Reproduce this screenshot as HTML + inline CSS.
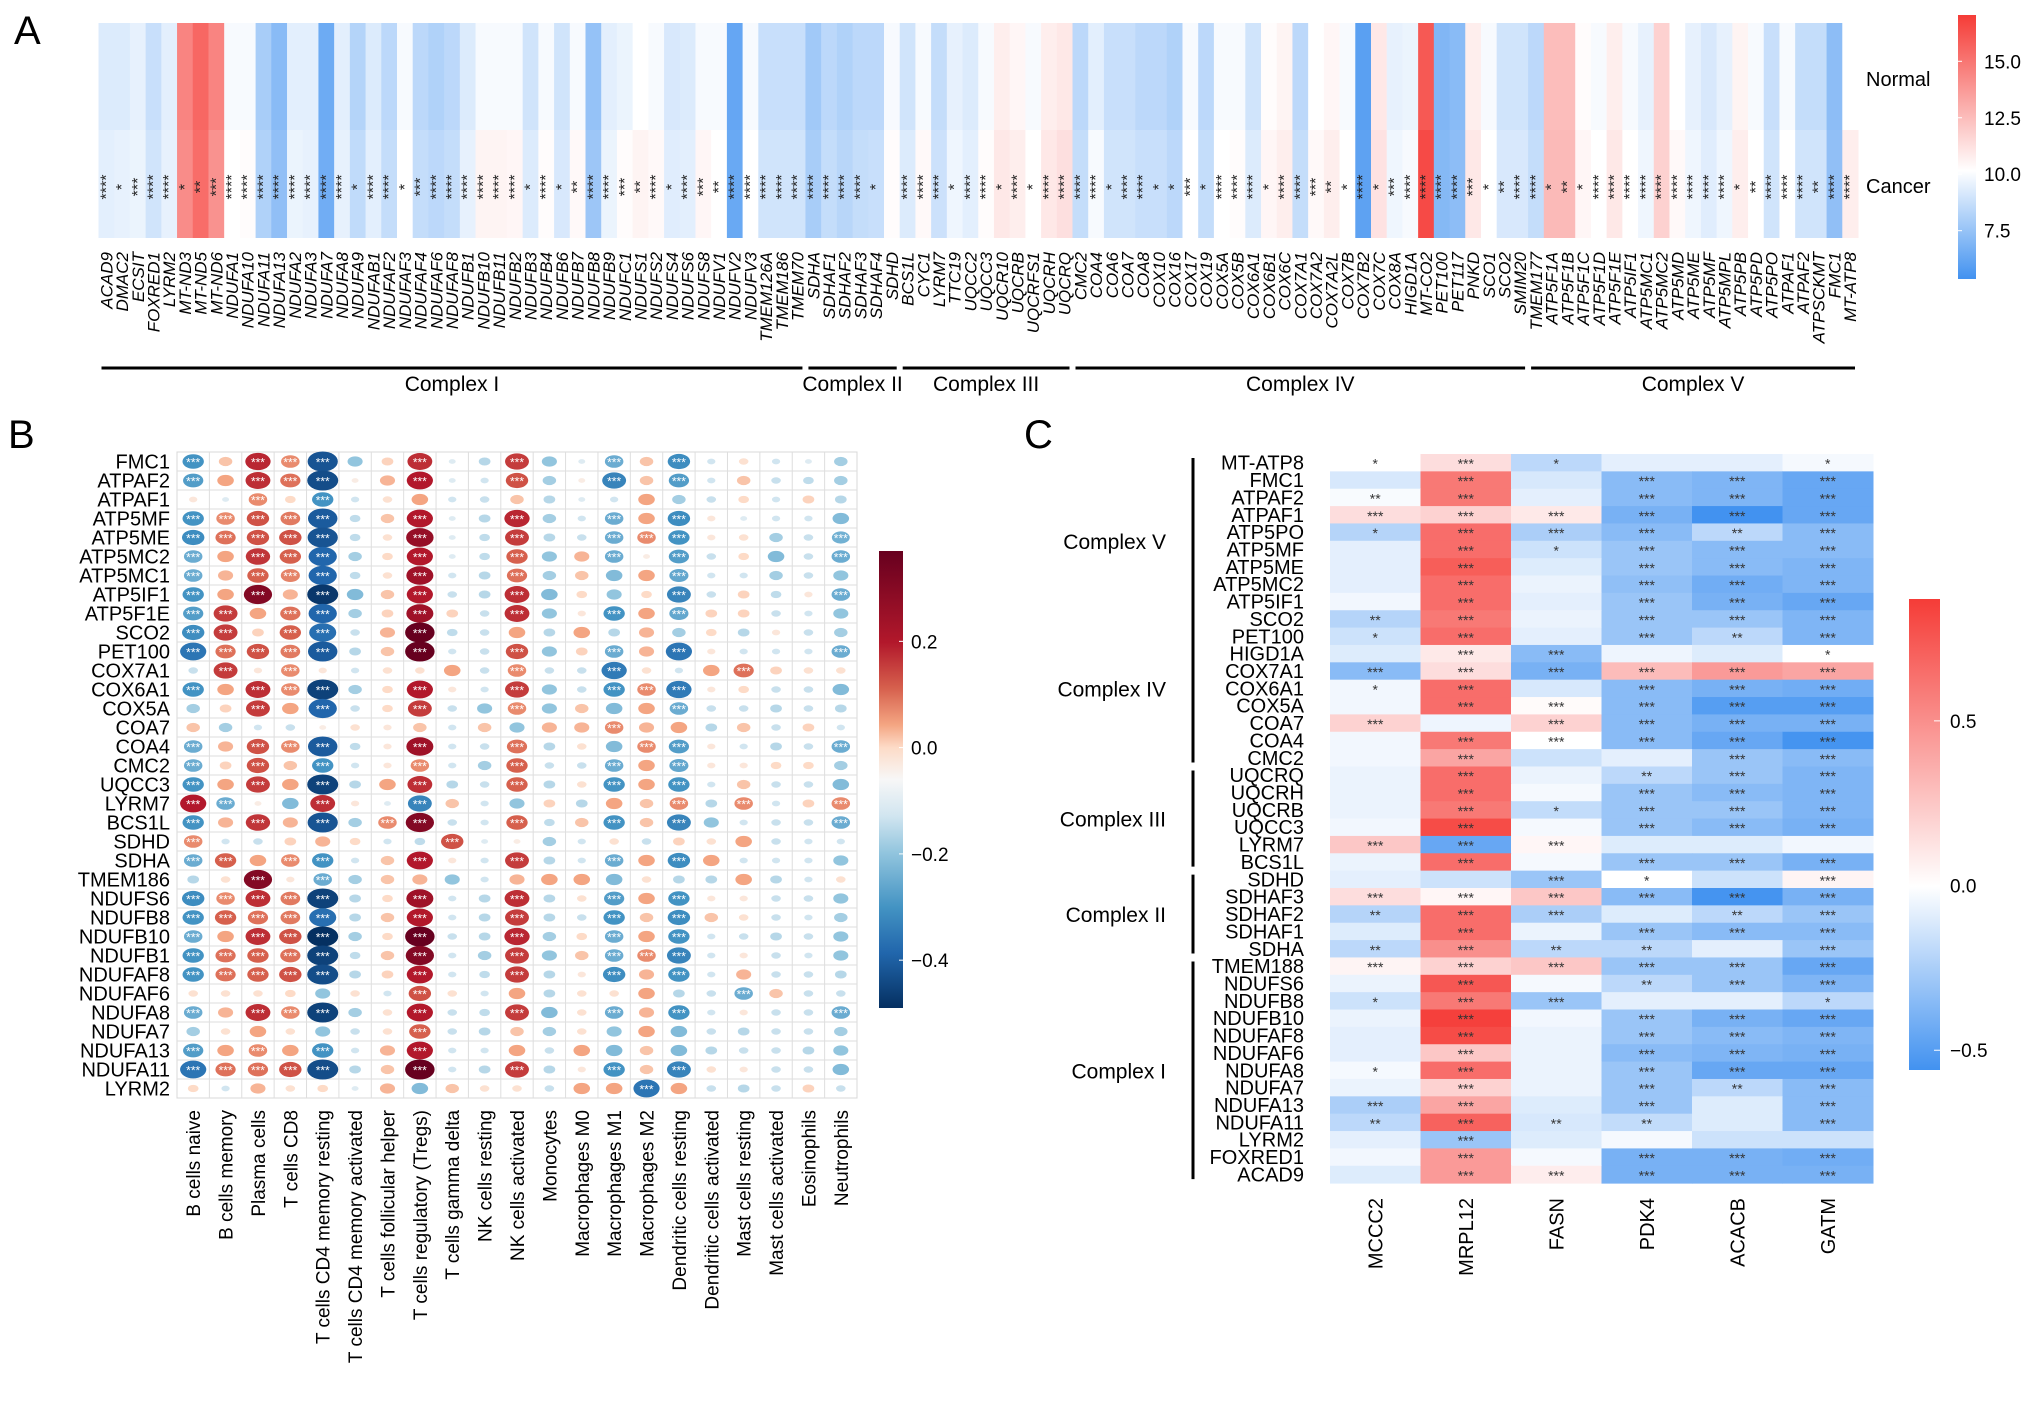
<!DOCTYPE html>
<html><head><meta charset="utf-8"><style>
html,body{margin:0;padding:0;background:#fff;}
svg{display:block;font-family:"Liberation Sans",sans-serif;}
</style></head><body>
<svg id="fig" width="2032" height="1404" viewBox="0 0 2032 1404" xmlns="http://www.w3.org/2000/svg">
<defs>
<linearGradient id="gradA" x1="0" y1="0" x2="0" y2="1">
<stop offset="0" stop-color="rgb(245,60,55)"/><stop offset="0.59" stop-color="#ffffff"/><stop offset="1" stop-color="rgb(66,146,240)"/></linearGradient>
<linearGradient id="gradB" x1="0" y1="0" x2="0" y2="1">
<stop offset="0" stop-color="#67001F"/><stop offset="0.2" stop-color="#B2182B"/><stop offset="0.3" stop-color="#D6604D"/><stop offset="0.38" stop-color="#F4A582"/><stop offset="0.43" stop-color="#FDDBC7"/><stop offset="0.5" stop-color="#F7F7F7"/><stop offset="0.58" stop-color="#D1E5F0"/><stop offset="0.66" stop-color="#92C5DE"/><stop offset="0.78" stop-color="#4393C3"/><stop offset="0.88" stop-color="#2166AC"/><stop offset="1" stop-color="#053061"/></linearGradient>
<linearGradient id="gradC" x1="0" y1="0" x2="0" y2="1">
<stop offset="0" stop-color="rgb(245,60,55)"/><stop offset="0.61" stop-color="#ffffff"/><stop offset="1" stop-color="rgb(66,146,240)"/></linearGradient>
</defs>
<text x="14" y="44" font-size="40">A</text>
<text x="8" y="448" font-size="40">B</text>
<text x="1024" y="448" font-size="40">C</text>
<g id="pa"></g>
<g id="pb"></g>
<g id="pc"></g>
</svg>
<script>
// ---------- Panel A data ----------
const genesA = ["ACAD9","DMAC2","ECSIT","FOXRED1","LYRM2","MT-ND3","MT-ND5","MT-ND6","NDUFA1","NDUFA10","NDUFA11","NDUFA13","NDUFA2","NDUFA3","NDUFA7","NDUFA8","NDUFA9","NDUFAB1","NDUFAF2","NDUFAF3","NDUFAF4","NDUFAF6","NDUFAF8","NDUFB1","NDUFB10","NDUFB11","NDUFB2","NDUFB3","NDUFB4","NDUFB6","NDUFB7","NDUFB8","NDUFB9","NDUFC1","NDUFS1","NDUFS2","NDUFS4","NDUFS6","NDUFS8","NDUFV1","NDUFV2","NDUFV3","TMEM126A","TMEM186","TMEM70","SDHA","SDHAF1","SDHAF2","SDHAF3","SDHAF4","SDHD","BCS1L","CYC1","LYRM7","TTC19","UQCC2","UQCC3","UQCR10","UQCRB","UQCRFS1","UQCRH","UQCRQ","CMC2","COA4","COA6","COA7","COA8","COX10","COX16","COX17","COX19","COX5A","COX5B","COX6A1","COX6B1","COX6C","COX7A1","COX7A2","COX7A2L","COX7B","COX7B2","COX7C","COX8A","HIGD1A","MT-CO2","PET100","PET117","PNKD","SCO1","SCO2","SMIM20","TMEM177","ATP5F1A","ATP5F1B","ATP5F1C","ATP5F1D","ATP5F1E","ATP5IF1","ATP5MC1","ATP5MC2","ATP5MD","ATP5ME","ATP5MF","ATP5MPL","ATP5PB","ATP5PD","ATP5PO","ATPAF1","ATPAF2","ATPSCKMT","FMC1","MT-ATP8"];
const normalA = [9.3,9.3,9.6,8.8,9.5,14.5,15.5,14.5,10,10,8,7.2,9.5,9.5,6.5,9.5,8.3,9.3,8.5,10,8.5,8.2,8.5,9.3,10,10,10,9,10,9,10,7.5,9.5,9.7,10.2,10,9.2,9.3,10,10,6.3,10,8.8,8.8,8.8,7.8,8.5,8.2,8.5,8.5,10,9,10,8.7,9.6,9.3,10,10.8,10.5,10,10.8,11,8.5,9.5,8.8,8.8,8.5,8.5,8.2,10,8.5,10,10,9,10.3,10.6,8.5,10.2,10.5,10,6,11,9.6,9.7,16,7,7.2,10.8,10,9,9,8.5,12.5,12.5,10.3,10,10.8,10,9.6,11.8,10.2,9.6,9.2,9.6,10.6,10,8.8,10,8.7,8.7,7.3,10.2];
const cancerA = [9.5,9.6,9.7,9,9.6,14.2,15.3,14,10.2,10.3,8.2,7.4,9.7,9.6,6.6,9.6,8.6,9.5,8.7,10.2,8.7,8.5,8.7,9.6,10.6,10.6,10.5,9.3,10.3,9.2,10.4,7.7,9.7,10.3,10.6,10.4,9.4,9.5,10.5,10.2,6.4,10.2,9,9,9,8,8.7,8.4,8.7,8.8,10.3,9.3,10.4,8.9,9.8,9.5,10.3,11,10.8,10.2,11,11.3,8.7,10,9,9,8.8,8.8,8.5,10.2,8.7,10.2,10.3,9.3,10.5,10.8,8.7,10.4,10.8,10.2,6.1,11.2,9.8,10,16.5,7.1,7.3,11,10.2,9.2,9.2,8.7,12.6,12.6,10.5,10.2,11,10.2,9.8,11.8,10.4,9.8,9.4,9.8,10.8,10.2,9,10.2,9,9,7.4,10.8];
const starsA = [4,1,3,4,4,1,2,3,4,4,4,4,4,4,4,4,1,4,4,1,3,4,4,4,4,4,4,1,4,1,2,4,4,3,2,4,1,4,3,2,4,4,4,4,4,4,4,4,4,1,0,4,4,4,1,4,4,1,4,1,4,4,4,4,1,4,4,1,1,3,1,4,4,4,1,4,4,3,2,1,4,1,3,4,4,4,4,3,1,2,4,4,1,2,1,4,4,4,4,4,4,4,4,4,1,2,4,4,4,2,4,4];
const groupsA = ["Complex I","Complex II","Complex III","Complex IV","Complex V"];
const groupStartA = [0,45,51,62,91];
const groupEndA = [44,50,61,90,111];
const ticksA = [15.0,12.5,10.0,7.5];

// ---------- Panel B data ----------
const cellsB = ["B cells naive","B cells memory","Plasma cells","T cells CD8","T cells CD4 memory resting","T cells CD4 memory activated","T cells follicular helper","T cells regulatory (Tregs)","T cells gamma delta","NK cells resting","NK cells activated","Monocytes","Macrophages M0","Macrophages M1","Macrophages M2","Dendritic cells resting","Dendritic cells activated","Mast cells resting","Mast cells activated","Eosinophils","Neutrophils"];
const genesB = ["FMC1","ATPAF2","ATPAF1","ATP5MF","ATP5ME","ATP5MC2","ATP5MC1","ATP5IF1","ATP5F1E","SCO2","PET100","COX7A1","COX6A1","COX5A","COA7","COA4","CMC2","UQCC3","LYRM7","BCS1L","SDHD","SDHA","TMEM186","NDUFS6","NDUFB8","NDUFB10","NDUFB1","NDUFAF8","NDUFAF6","NDUFA8","NDUFA7","NDUFA13","NDUFA11","LYRM2"];
const corrB = [
[-0.2,0.08,0.28,0.15,-0.4,-0.1,0.06,0.27,-0.02,-0.06,0.25,-0.1,-0.02,-0.15,0.08,-0.22,-0.03,0.04,-0.03,-0.02,-0.08],
[-0.18,0.12,0.27,0.18,-0.42,0.02,0.1,0.3,-0.02,-0.03,0.22,-0.08,0.02,-0.25,0.08,-0.18,-0.03,0.08,-0.04,-0.05,-0.08],
[0.03,-0.02,0.15,0.05,-0.2,-0.03,0.04,0.12,-0.03,-0.04,0.08,-0.06,-0.02,-0.03,0.12,-0.08,-0.04,0.05,-0.03,0.06,-0.06],
[-0.2,0.15,0.22,0.17,-0.38,-0.05,0.08,0.3,-0.02,-0.06,0.28,-0.08,-0.03,-0.15,0.12,-0.22,0.03,-0.02,-0.03,-0.03,-0.12],
[-0.22,0.18,0.22,0.22,-0.4,-0.05,0.04,0.33,-0.02,-0.05,0.25,-0.06,-0.04,-0.15,0.15,-0.2,0.03,0.04,-0.08,-0.04,-0.14],
[-0.15,0.12,0.26,0.2,-0.35,-0.08,0.05,0.3,-0.02,-0.05,0.2,-0.1,0.1,-0.15,0.02,-0.18,-0.04,0.05,-0.12,-0.04,-0.15],
[-0.15,0.1,0.2,0.16,-0.35,-0.05,0.04,0.32,-0.03,-0.06,0.18,-0.08,0.08,-0.12,0.12,-0.16,-0.03,-0.03,-0.08,-0.04,-0.1],
[-0.2,0.12,0.35,0.1,-0.48,-0.12,0.08,0.3,-0.04,-0.06,0.27,-0.12,0.05,-0.1,0.05,-0.25,-0.04,0.06,-0.05,0.03,-0.15],
[-0.18,0.25,0.12,0.18,-0.35,-0.08,0.06,0.32,0.06,-0.04,0.27,-0.1,0.03,-0.2,0.12,-0.16,0.06,0.06,-0.04,-0.03,-0.1],
[-0.22,0.25,0.06,0.2,-0.32,-0.04,0.1,0.38,-0.05,-0.04,0.12,-0.06,0.12,-0.06,0.1,-0.08,0.05,-0.06,0.03,-0.04,-0.08],
[-0.3,0.18,0.22,0.17,-0.38,-0.06,0.08,0.38,-0.03,-0.04,0.22,-0.1,0.06,-0.15,0.1,-0.3,0.03,-0.03,-0.03,-0.03,-0.15],
[-0.04,0.25,0.03,0.15,0.03,-0.03,0.04,0.04,0.12,-0.04,0.15,-0.04,-0.04,-0.28,0.04,-0.03,0.12,0.18,0.06,0.04,0.04],
[-0.2,0.12,0.27,0.15,-0.45,-0.08,0.05,0.3,0.03,-0.03,0.25,-0.1,-0.04,-0.2,0.15,-0.28,0.03,0.05,-0.04,-0.04,-0.12],
[-0.08,0.06,0.25,0.12,-0.35,-0.04,0.05,0.25,-0.04,-0.1,0.15,-0.1,0.08,-0.12,0.12,-0.15,-0.04,-0.04,-0.06,-0.04,-0.06],
[0.08,-0.08,-0.03,-0.04,0.02,0.04,0.03,0.08,-0.03,0.08,-0.1,0.1,0.1,0.15,0.1,0.12,-0.06,0.08,-0.04,0.06,-0.03],
[-0.15,0.1,0.22,0.15,-0.38,-0.05,0.03,0.32,-0.03,-0.04,0.18,-0.06,0.04,-0.12,0.15,-0.18,0.03,-0.03,-0.06,-0.04,-0.15],
[-0.15,0.06,0.22,0.08,-0.2,-0.03,0.03,0.15,-0.03,-0.08,0.2,-0.04,-0.04,-0.15,0.12,-0.16,0.03,0.03,0.05,0.05,-0.08],
[-0.2,0.12,0.25,0.12,-0.45,-0.06,0.12,0.27,-0.06,-0.04,0.2,-0.06,0.04,-0.2,0.12,-0.2,-0.03,0.08,-0.04,-0.04,-0.12],
[0.3,-0.15,0.02,-0.12,0.27,0.03,-0.02,-0.25,0.08,-0.03,-0.1,0.06,-0.06,0.12,0.08,0.15,-0.06,0.15,-0.03,0.06,0.15],
[-0.2,0.1,0.26,0.1,-0.4,-0.08,0.15,0.35,-0.04,-0.03,0.2,-0.05,0.08,-0.2,0.08,-0.25,-0.1,-0.03,-0.04,-0.04,-0.15],
[0.15,-0.03,-0.04,0.06,0.1,0.05,-0.03,-0.05,0.22,-0.02,0.02,-0.08,-0.03,0.04,-0.04,0.06,0.04,0.12,-0.04,-0.03,-0.03],
[-0.15,0.2,0.12,0.15,-0.2,-0.03,0.08,0.3,0.03,-0.03,0.25,-0.06,-0.03,-0.15,0.12,-0.22,0.12,-0.03,-0.03,-0.03,-0.1],
[-0.06,0.04,0.35,0.03,-0.15,-0.08,0.08,0.1,-0.1,-0.03,0.1,0.12,0.12,-0.12,0.04,-0.06,-0.06,0.12,-0.06,-0.03,0.04],
[-0.22,0.15,0.27,0.17,-0.45,-0.06,0.05,0.32,-0.03,-0.06,0.27,-0.06,0.04,-0.18,0.12,-0.2,0.03,0.03,-0.04,-0.04,-0.1],
[-0.2,0.2,0.18,0.17,-0.32,-0.06,0.08,0.3,-0.03,-0.06,0.25,-0.06,-0.04,-0.2,0.08,-0.22,0.08,0.04,-0.04,-0.03,-0.08],
[-0.15,0.12,0.27,0.22,-0.5,-0.08,0.05,0.38,-0.04,-0.06,0.28,-0.08,0.05,-0.15,0.12,-0.2,-0.03,-0.04,-0.06,-0.04,-0.1],
[-0.2,0.18,0.2,0.18,-0.45,-0.05,0.08,0.35,-0.03,-0.08,0.25,-0.1,0.08,-0.15,0.15,-0.25,-0.03,0.03,-0.04,-0.03,-0.1],
[-0.2,0.18,0.2,0.22,-0.42,-0.06,0.06,0.3,-0.03,-0.05,0.25,-0.06,0.03,-0.22,0.1,-0.2,-0.03,0.1,-0.04,-0.04,-0.06],
[0.04,0.04,0.04,0.05,-0.1,0.04,-0.03,0.22,0.04,-0.03,0.12,-0.06,0.04,0.04,0.12,-0.06,-0.04,-0.15,0.08,-0.04,-0.04],
[-0.15,0.1,0.27,0.15,-0.45,-0.08,0.04,0.3,-0.04,-0.05,0.25,-0.12,0.04,-0.15,0.1,-0.2,-0.03,0.03,-0.04,-0.04,-0.15],
[-0.08,0.04,0.12,0.04,-0.1,-0.04,0.04,0.2,-0.04,-0.06,0.08,-0.08,0.04,-0.1,0.12,-0.12,-0.04,-0.06,-0.04,-0.04,-0.08],
[-0.18,0.12,0.15,0.12,-0.2,-0.03,0.1,0.3,-0.03,-0.03,0.12,-0.04,0.12,-0.12,0.08,-0.12,-0.06,-0.04,-0.04,-0.06,-0.1],
[-0.3,0.18,0.18,0.22,-0.42,-0.06,0.08,0.38,-0.03,-0.06,0.25,-0.06,0.03,-0.2,0.08,-0.25,0.04,0.03,-0.04,-0.04,-0.12],
[0.05,-0.03,0.1,0.04,0.05,-0.02,0.1,-0.12,0.08,0.04,0.04,-0.04,0.12,0.12,-0.3,0.12,-0.04,-0.06,-0.04,0.06,-0.04]];
const ticksB = [0.2,0.0,-0.2,-0.4];

// ---------- Panel C data ----------
const targetsC = ["MCCC2","MRPL12","FASN","PDK4","ACACB","GATM"];
const genesC = ["MT-ATP8","FMC1","ATPAF2","ATPAF1","ATP5PO","ATP5MF","ATP5ME","ATP5MC2","ATP5IF1","SCO2","PET100","HIGD1A","COX7A1","COX6A1","COX5A","COA7","COA4","CMC2","UQCRQ","UQCRH","UQCRB","UQCC3","LYRM7","BCS1L","SDHD","SDHAF3","SDHAF2","SDHAF1","SDHA","TMEM188","NDUFS6","NDUFB8","NDUFB10","NDUFAF8","NDUFAF6","NDUFA8","NDUFA7","NDUFA13","NDUFA11","LYRM2","FOXRED1","ACAD9"];
const corrC = [
[0.0,0.15,-0.2,-0.08,-0.08,-0.03],[-0.12,0.6,-0.12,-0.35,-0.38,-0.45],[-0.02,0.6,-0.08,-0.35,-0.38,-0.45],[0.15,0.2,0.1,-0.4,-0.58,-0.45],
[-0.22,0.65,-0.25,-0.35,-0.2,-0.35],[-0.08,0.65,-0.15,-0.3,-0.35,-0.35],[-0.08,0.72,-0.1,-0.3,-0.35,-0.38],[-0.08,0.65,-0.06,-0.33,-0.42,-0.38],
[-0.04,0.65,-0.08,-0.3,-0.4,-0.45],[-0.22,0.6,-0.06,-0.3,-0.3,-0.38],[-0.15,0.65,-0.08,-0.3,-0.2,-0.38],[-0.1,0.1,-0.35,-0.05,-0.1,0.0],
[-0.35,0.15,-0.4,0.3,0.45,0.4],[-0.04,0.65,-0.12,-0.35,-0.4,-0.42],[-0.04,0.65,0.02,-0.35,-0.5,-0.5],[0.2,-0.05,0.2,-0.35,-0.4,-0.4],
[-0.04,0.6,0.0,-0.35,-0.45,-0.55],[-0.04,0.4,-0.15,-0.08,-0.3,-0.35],[-0.06,0.65,-0.06,-0.2,-0.3,-0.38],[-0.06,0.65,-0.03,-0.3,-0.35,-0.38],
[-0.06,0.6,-0.18,-0.3,-0.3,-0.38],[-0.04,0.8,-0.03,-0.3,-0.35,-0.4],[0.25,-0.45,0.04,-0.1,-0.1,-0.04],[-0.06,0.65,-0.03,-0.3,-0.3,-0.4],
[-0.08,-0.15,-0.3,0.0,-0.15,0.05],[0.15,0.04,0.25,-0.35,-0.55,-0.4],[-0.22,0.65,-0.25,-0.1,-0.2,-0.3],[-0.1,0.65,-0.06,-0.3,-0.35,-0.35],
[-0.2,0.5,-0.2,-0.2,-0.08,-0.3],[0.05,0.2,0.25,-0.3,-0.3,-0.45],[-0.06,0.75,-0.03,-0.2,-0.3,-0.38],[-0.15,0.6,-0.3,-0.08,-0.08,-0.2],
[-0.06,0.85,-0.04,-0.3,-0.4,-0.45],[-0.08,0.8,-0.06,-0.3,-0.35,-0.38],[-0.08,0.25,-0.06,-0.35,-0.38,-0.4],[-0.03,0.65,-0.06,-0.3,-0.45,-0.45],
[-0.06,0.2,-0.06,-0.3,-0.2,-0.35],[-0.25,0.4,-0.1,-0.3,-0.1,-0.35],[-0.2,0.7,-0.12,-0.18,-0.1,-0.35],[-0.08,-0.3,-0.1,-0.03,-0.15,-0.15],
[-0.04,0.45,-0.03,-0.4,-0.4,-0.42],[-0.1,0.45,0.08,-0.4,-0.4,-0.4]];
const starsC = [
[1,3,1,0,0,1],[0,3,0,3,3,3],[2,3,0,3,3,3],[3,3,3,3,3,3],[1,3,3,3,2,3],[0,3,1,3,3,3],[0,3,0,3,3,3],[0,3,0,3,3,3],[0,3,0,3,3,3],
[2,3,0,3,3,3],[1,3,0,3,2,3],[0,3,3,0,0,1],[3,3,3,3,3,3],[1,3,0,3,3,3],[0,3,3,3,3,3],[3,0,3,3,3,3],[0,3,3,3,3,3],[0,3,0,0,3,3],
[0,3,0,2,3,3],[0,3,0,3,3,3],[0,3,1,3,3,3],[0,3,0,3,3,3],[3,3,3,0,0,0],[0,3,0,3,3,3],[0,0,3,1,0,3],[3,3,3,3,3,3],[2,3,3,0,2,3],
[0,3,0,3,3,3],[2,3,2,2,0,3],[3,3,3,3,3,3],[0,3,0,2,3,3],[1,3,3,0,0,1],[0,3,0,3,3,3],[0,3,0,3,3,3],[0,3,0,3,3,3],[1,3,0,3,3,3],
[0,3,0,3,2,3],[3,3,0,3,0,3],[2,3,2,2,0,3],[0,3,0,0,0,0],[0,3,0,3,3,3],[0,3,3,3,3,3]];
const groupsC = ["Complex V","Complex IV","Complex III","Complex II","Complex I"];
const groupTopC = [0,9,18,24,29];
const groupBotC = [9,17,23,28,41];
const ticksC = [0.5,0.0,-0.5];

// ---------- helpers ----------
const NS = "http://www.w3.org/2000/svg";
function mk(parent, tag, attrs, txt){const e=document.createElementNS(NS,tag);for(const k in attrs)e.setAttribute(k,attrs[k]);if(txt!==undefined)e.textContent=txt;parent.appendChild(e);return e;}
function mix(a,b,t){return [0,1,2].map(i=>Math.round(a[i]+(b[i]-a[i])*t));}
const BLUE=[66,146,240], RED=[245,60,55], WHITE=[255,255,255];
function divColor(v,lo,mid,hi){let c; if(v>=mid){c=mix(WHITE,RED,Math.min(1,(v-mid)/(hi-mid)));} else {c=mix(WHITE,BLUE,Math.min(1,(mid-v)/(mid-lo)));} return `rgb(${c[0]},${c[1]},${c[2]})`;}
const rdbuStops=[[-0.5,[5,48,97]],[-0.35,[33,102,172]],[-0.2,[67,147,195]],[-0.1,[146,197,222]],[-0.03,[209,229,240]],[0,[247,247,247]],[0.05,[253,219,199]],[0.12,[244,165,130]],[0.2,[214,96,77]],[0.3,[178,24,43]],[0.38,[103,0,31]]];
function rdbu(v){v=Math.max(-0.5,Math.min(0.38,v));for(let i=0;i<rdbuStops.length-1;i++){const a=rdbuStops[i],b=rdbuStops[i+1];if(v<=b[0]){const c=mix(a[1],b[1],(v-a[0])/(b[0]-a[0]));return `rgb(${c[0]},${c[1]},${c[2]})`;}}return "rgb(103,0,31)";}

// ---------- Panel A ----------
(function(){
const g=document.getElementById("pa");
const x0=98.5, x1=1858, colW=(x1-x0)/genesA.length, yTop=23, yMid=130, yBot=238;
const xA=i=>x0+i*colW;
const colorA=v=>divColor(v,5.4,10.2,17);
genesA.forEach((gname,i)=>{
  let r=mk(g,"rect",{x:xA(i),y:yTop,width:colW+0.5,height:yMid-yTop,fill:colorA(normalA[i])});
  
  
  r=mk(g,"rect",{x:xA(i),y:yMid,width:colW+0.5,height:yBot-yMid,fill:colorA(cancerA[i])});
  
  
  const cx=xA(i)+colW/2;
  if(starsA[i]>0){
    const s=mk(g,"text",{x:cx+5,y:187,"font-size":16,"text-anchor":"middle",fill:"#222",transform:`rotate(-90 ${cx+5} 187)`},"*".repeat(starsA[i]));
    
    
  }
  const t=mk(g,"text",{x:cx+6,y:252,"font-size":17,"font-style":"italic","text-anchor":"end",transform:`rotate(-90 ${cx+6} 252)`},gname);
  
  
});
groupsA.forEach((name,k)=>{
  const a=xA(groupStartA[k])+3, b=xA(groupEndA[k]+1)-3;
  const l=mk(g,"line",{x1:a,x2:b,y1:368,y2:368,stroke:"#000","stroke-width":3});
  
  
  const t=mk(g,"text",{x:(a+b)/2,y:391,"font-size":21,"text-anchor":"middle"},name);
  
  
});
let t=mk(g,"text",{x:1866,y:86,"font-size":20},"Normal");

t=mk(g,"text",{x:1866,y:193,"font-size":20},"Cancer");

const lg=mk(g,"rect",{x:1958,y:15,width:18,height:264,fill:"url(#gradA)"});

const yL=v=>15+(17.05-v)/(17.05-5.36)*264;
ticksA.forEach(v=>{
  mk(g,"line",{x1:1958,x2:1962,y1:yL(v),y2:yL(v),stroke:"#fff","stroke-width":1});
  const tt=mk(g,"text",{x:1984,y:yL(v)+7,"font-size":19},v.toFixed(1));
  
});
})();

// ---------- Panel B ----------
(function(){
const g=document.getElementById("pb");
const x0=177, x1=857, y0=452, rowH=19, colW=(x1-x0)/cellsB.length;
const xB=j=>x0+j*colW, yB=i=>y0+i*rowH;
mk(g,"rect",{x:x0,y:y0,width:x1-x0,height:rowH*genesB.length,fill:"#fff",stroke:"#d8d8d8","stroke-width":1});
for(let j=1;j<cellsB.length;j++) mk(g,"line",{x1:xB(j),x2:xB(j),y1:y0,y2:yB(genesB.length),stroke:"#dedede","stroke-width":1});
for(let i=1;i<genesB.length;i++) mk(g,"line",{x1:x0,x2:x1,y1:yB(i),y2:yB(i),stroke:"#dedede","stroke-width":1});
genesB.forEach((gname,i)=>{
  const t=mk(g,"text",{x:170,y:yB(i)+rowH/2+7,"font-size":20,"text-anchor":"end"},gname);
  
  
  cellsB.forEach((c,j)=>{
    const v=corrB[i][j];
    const rx=Math.max(3.5,Math.min(15.5,15.5*Math.sqrt(Math.abs(v)/0.42)));
    const e=mk(g,"ellipse",{cx:xB(j)+colW/2,cy:yB(i)+rowH/2,rx:rx,ry:Math.min(10,rx*0.68),fill:rdbu(v)});
    
    
    if(Math.abs(v)>=0.14){
      mk(g,"text",{x:xB(j)+colW/2,y:yB(i)+rowH/2+5,"font-size":12,"text-anchor":"middle",fill:"#fff"},"***");
    }
  });
});
cellsB.forEach((c,j)=>{
  const cx=xB(j)+colW/2+7;
  const t=mk(g,"text",{x:cx,y:1110,"font-size":19,"text-anchor":"end",transform:`rotate(-90 ${cx} 1110)`},c);
  
  
});
const lg=mk(g,"rect",{x:879,y:551,width:24,height:457,fill:"url(#gradB)"});

const yL=v=>551+(0.37-v)/0.86*457;
ticksB.forEach(v=>{
  mk(g,"line",{x1:899,x2:903,y1:yL(v),y2:yL(v),stroke:"#fff"});
  const tt=mk(g,"text",{x:911,y:yL(v)+7,"font-size":19},(v<0?"\u2212":"")+Math.abs(v).toFixed(1));
  
});
})();

// ---------- Panel C ----------
(function(){
const g=document.getElementById("pc");
const x0=1330, x1=1873, y0=454, rowH=17.36, colW=(x1-x0)/targetsC.length;
const xC=j=>x0+j*colW, yC=i=>y0+i*rowH;
const colorC=v=>divColor(v,-0.56,0.0,0.87);
genesC.forEach((gname,i)=>{
  const t=mk(g,"text",{x:1304,y:yC(i)+rowH/2+7,"font-size":20,"text-anchor":"end"},gname);
  
  
  targetsC.forEach((tg,j)=>{
    const r=mk(g,"rect",{x:xC(j),y:yC(i),width:colW+0.5,height:rowH+0.5,fill:colorC(corrC[i][j])});
    
    
    if(starsC[i][j]>0) mk(g,"text",{x:xC(j)+colW/2,y:yC(i)+rowH/2+6,"font-size":14,"text-anchor":"middle",fill:"#333"},"*".repeat(starsC[i][j]));
  });
});
targetsC.forEach((tg,j)=>{
  const cx=xC(j)+colW/2+7;
  const t=mk(g,"text",{x:cx,y:1198,"font-size":20,"text-anchor":"end",transform:`rotate(-90 ${cx} 1198)`},tg);
  
  
});
groupsC.forEach((name,k)=>{
  const a=yC(groupTopC[k])+4, b=yC(groupBotC[k]+1)-4;
  const l=mk(g,"line",{x1:1193,x2:1193,y1:a,y2:b,stroke:"#000","stroke-width":3});
  
  
  const t=mk(g,"text",{x:1166,y:(a+b)/2+8,"font-size":21,"text-anchor":"end"},name);
  
  
});
const lg=mk(g,"rect",{x:1909,y:599,width:31,height:471,fill:"url(#gradC)"});

const yL=v=>599+(0.87-v)/1.43*471;
ticksC.forEach(v=>{
  mk(g,"line",{x1:1934,x2:1940,y1:yL(v),y2:yL(v),stroke:"#fff"});
  const tt=mk(g,"text",{x:1950,y:yL(v)+7,"font-size":19},(v<0?"\u2212":"")+Math.abs(v).toFixed(1));
  
});
})();
</script>
</body></html>
